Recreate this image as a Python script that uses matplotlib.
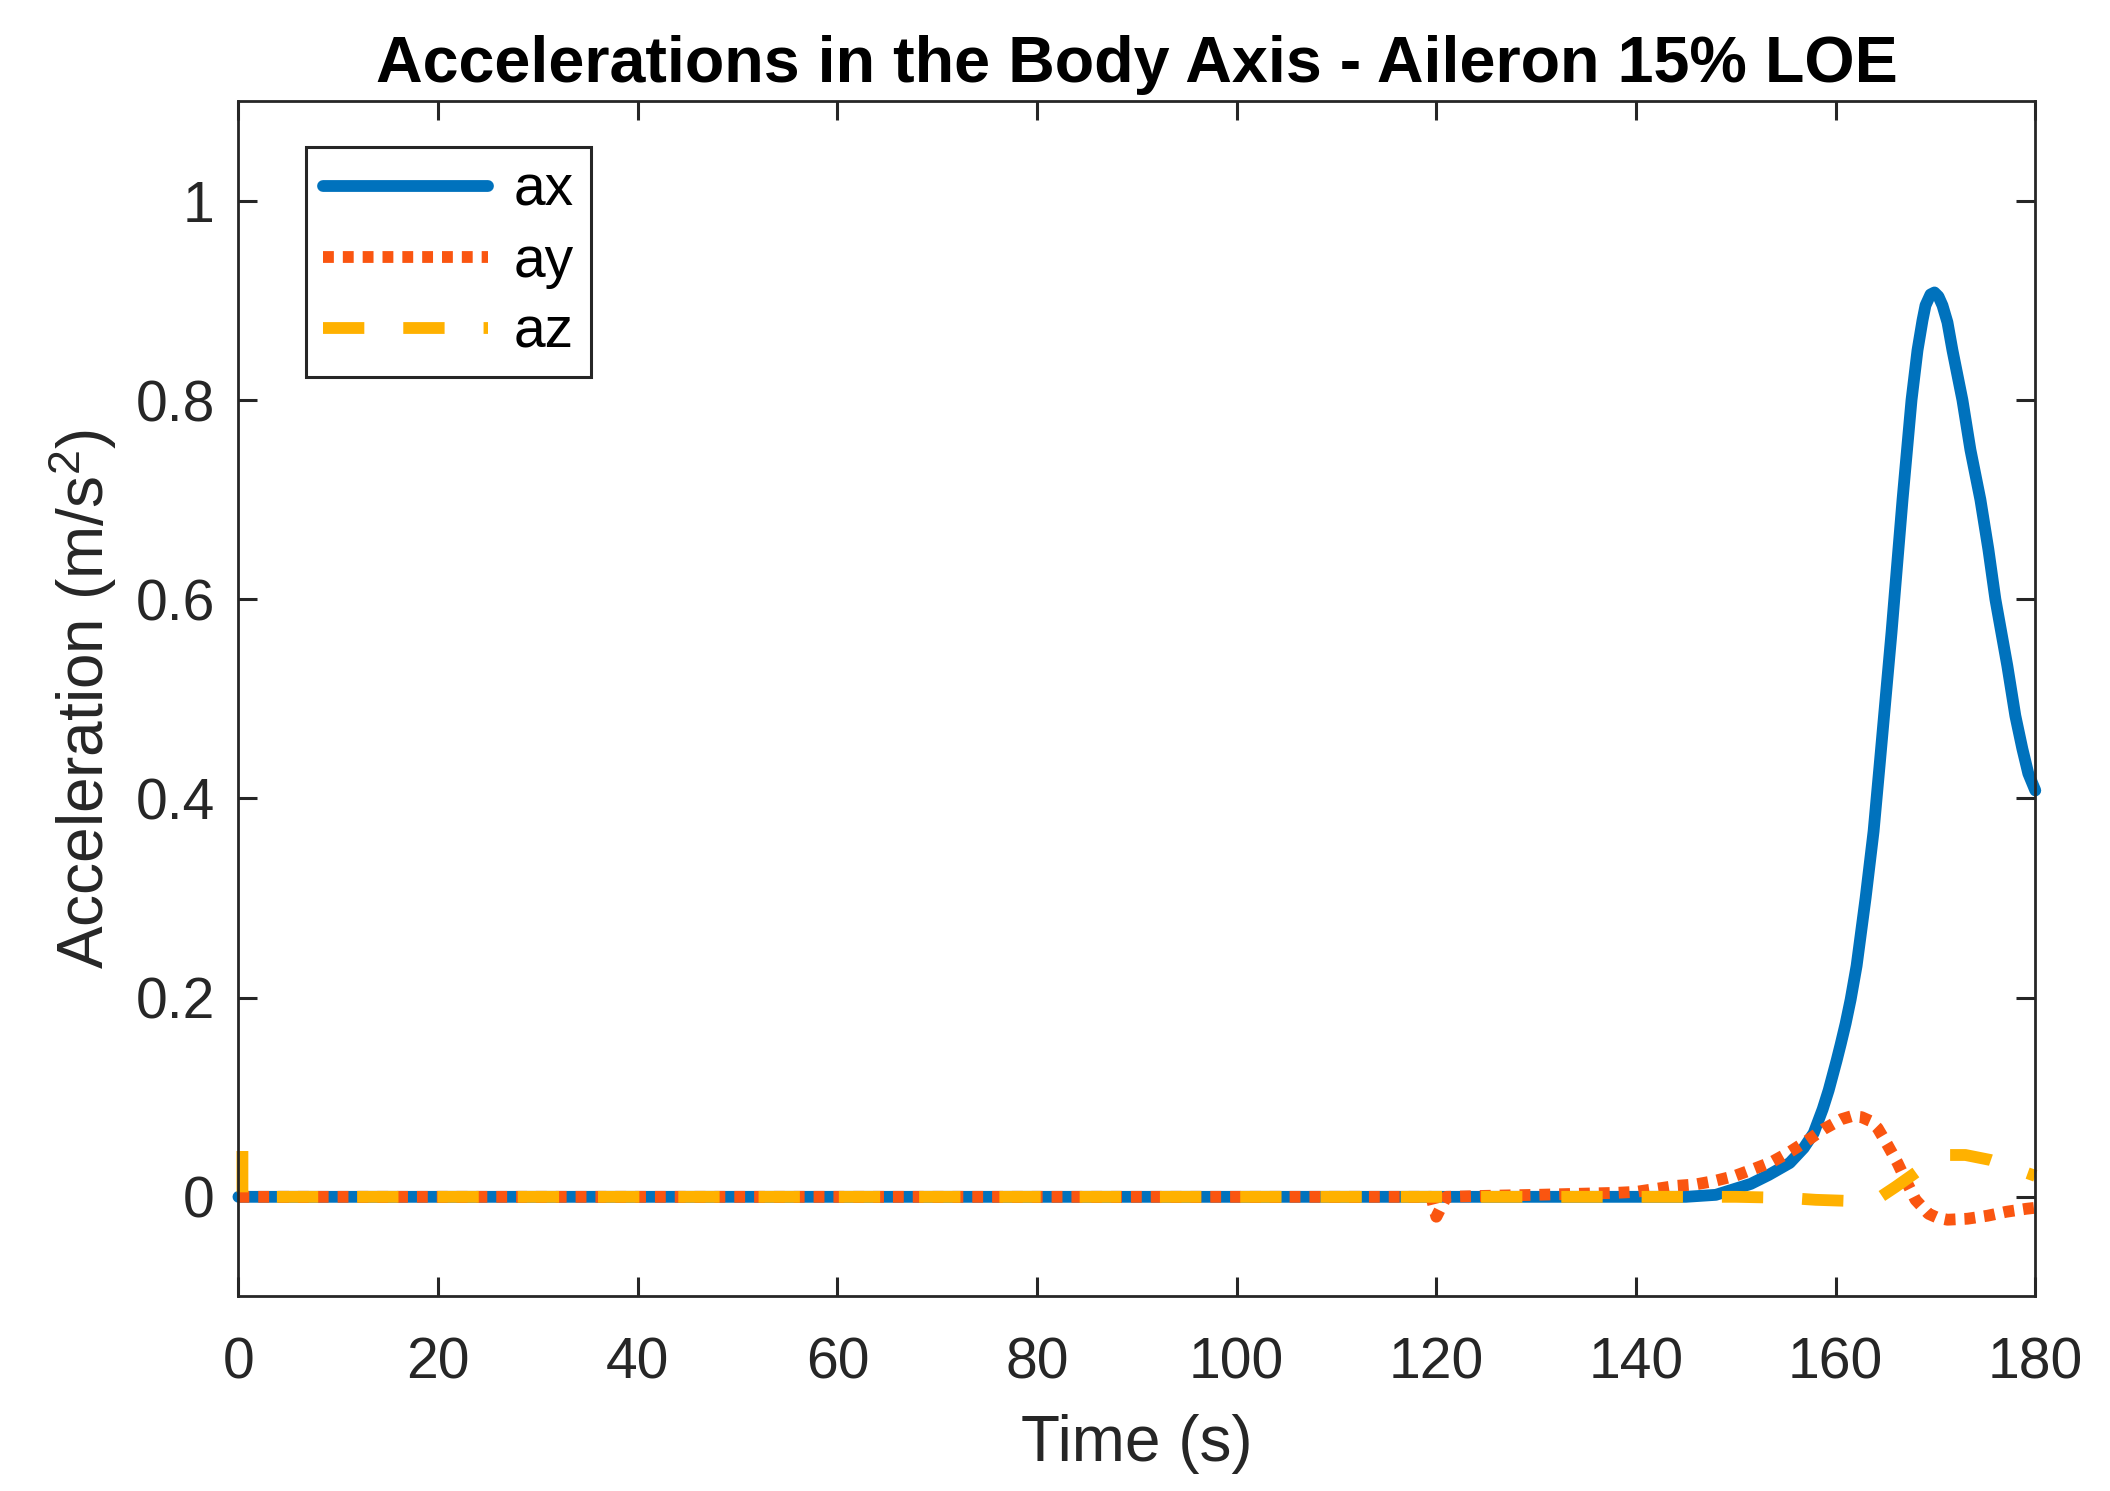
import matplotlib
matplotlib.use("Agg")
import matplotlib.pyplot as plt

# ---- data ----
t_ax = [0, 145, 148, 151.5, 153.3, 155.4, 156.8, 157.8, 158.7, 159.3, 160.1, 160.5, 161.0,
        161.5, 162.1, 163.0, 163.8, 164.4, 165.0, 165.6, 166.7, 167.6, 168.2, 168.7, 169.0,
        169.5, 169.9, 170.3, 170.7, 171.2, 171.7, 172.7, 173.5, 174.5, 175.3, 176.0, 177.2,
        178.0, 178.7, 179.3, 180]
ax_vals = [0, 0, 0.002, 0.013, 0.022, 0.034, 0.049, 0.064, 0.088, 0.107, 0.137, 0.153, 0.174,
           0.198, 0.232, 0.300, 0.367, 0.433, 0.50, 0.567, 0.70, 0.80, 0.85, 0.880, 0.895,
           0.906, 0.908, 0.904, 0.895, 0.878, 0.85, 0.80, 0.75, 0.70, 0.65, 0.60, 0.533,
           0.483, 0.45, 0.425, 0.408]

t_ay = [0, 119.5, 120, 120.4, 121, 125, 130, 134, 138, 140, 142, 144, 146, 147.9, 149.9,
        151.8, 153.6, 155.4, 157.1, 158.8, 160.6, 161.6, 162.6, 163.5, 164.2, 165.2, 166.2,
        167.1, 168.0, 169.3, 170.2, 171.2, 173.2, 175.2, 177.1, 179.1, 180]
ay_vals = [0, 0, -0.02, -0.012, 0, 0.001, 0.002, 0.003, 0.004, 0.005, 0.008, 0.011, 0.0125,
           0.016, 0.021, 0.028, 0.035, 0.045, 0.056, 0.068, 0.078, 0.081, 0.080, 0.076,
           0.069, 0.052, 0.034, 0.015, -0.003, -0.017, -0.021, -0.023, -0.022, -0.019,
           -0.015, -0.012, -0.011]

t_az = [0.4, 0.4, 150, 155, 158, 161, 163, 164.5, 166, 167.7, 169.5, 171.3, 173, 175.5,
        177.5, 180]
az_vals = [0.046, 0, 0, -0.001, -0.003, -0.004, -0.002, 0.0, 0.01, 0.022, 0.035, 0.042,
           0.042, 0.037, 0.03, 0.021]

labels = ["ax", "ay", "az"]
xticks = [0, 20, 40, 60, 80, 100, 120, 140, 160, 180]
yticks = [0, 0.2, 0.4, 0.6, 0.8, 1]
ytick_labels = ["0", "0.2", "0.4", "0.6", "0.8", "1"]

# ---- style ----
plt.rcParams['font.family'] = ['Liberation Sans', 'DejaVu Sans']
plt.rcParams['mathtext.fontset'] = 'custom'
plt.rcParams['mathtext.rm'] = 'Liberation Sans'
plt.rcParams['mathtext.it'] = 'Liberation Sans'

c_ax = '#0072BD'
c_ay = '#FA5510'
c_az = '#FFB100'
dark = '#262626'

fig = plt.figure(figsize=(21.1, 14.91), dpi=100)
ax = fig.add_axes([0.1130, 0.1305, 0.8516, 0.8016])

lw = 8.5
ax.plot(t_ax, ax_vals, color=c_ax, lw=lw, solid_capstyle='round',
        solid_joinstyle='round', label=labels[0], clip_on=False)
ax.plot(t_ay, ay_vals, color=c_ay, lw=lw, linestyle=(0, (0.92, 0.76)),
        dash_capstyle='butt', label=labels[1], clip_on=False)
ax.plot(t_az, az_vals, color=c_az, lw=lw, linestyle=(0, (3.5, 3.3)),
        dash_capstyle='butt', label=labels[2], clip_on=False)

ax.set_xlim(0, 180)
ax.set_ylim(-0.1, 1.1)
ax.set_xticks(xticks)
ax.set_yticks(yticks)
ax.set_yticklabels(ytick_labels)

for s in ax.spines.values():
    s.set_linewidth(2.0)
    s.set_color(dark)
ax.tick_params(direction='in', length=14, width=2.2, color=dark, labelcolor=dark,
               labelsize=41, top=True, right=True)
ax.tick_params(axis='x', pad=29)
ax.tick_params(axis='y', pad=17)

ax.set_xlabel("Time (s)", fontsize=46, color=dark, labelpad=17)
ax.set_ylabel("Acceleration (m/s$^{2}$)", fontsize=46, color=dark, labelpad=12)
ax.set_title("Accelerations in the Body Axis - Aileron 15% LOE", fontsize=46.5,
             fontweight='bold', pad=14)

leg = ax.legend(loc='upper left', bbox_to_anchor=(0.0375, 0.962), fontsize=41,
                frameon=True, fancybox=False, framealpha=1, edgecolor=dark,
                handlelength=2.9, handletextpad=0.45, labelspacing=0.3,
                borderpad=0.3, borderaxespad=0)
leg.get_frame().set_linewidth(2.2)

fig.savefig("out.png", dpi=100)
